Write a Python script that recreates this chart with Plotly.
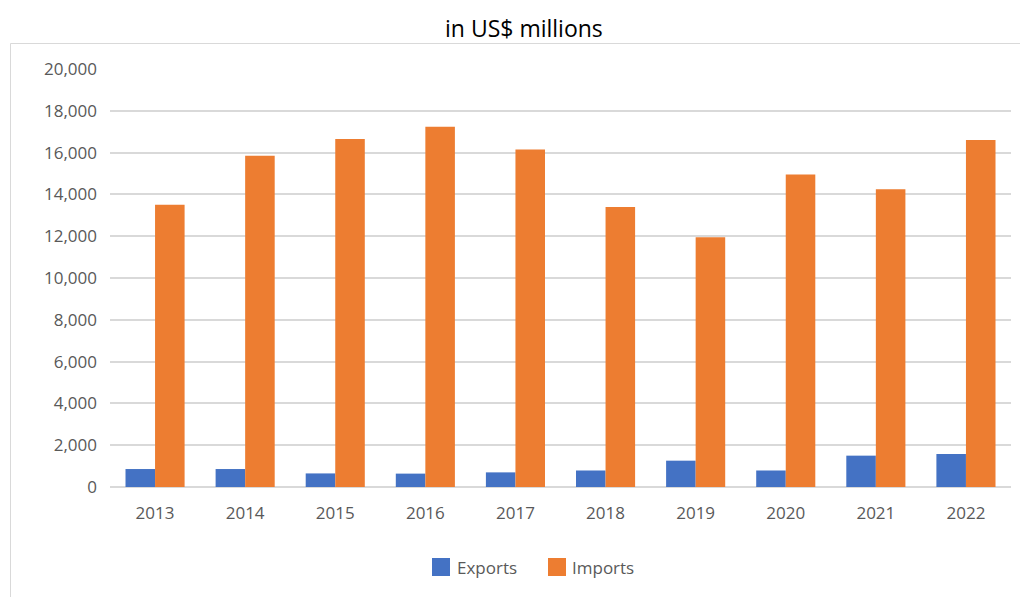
import plotly.graph_objects as go

# Annual trade values, US$ millions
years = ["2013", "2014", "2015", "2016", "2017", "2018", "2019", "2020", "2021", "2022"]
exports = [860, 860, 650, 640, 700, 790, 1260, 790, 1500, 1580]
imports = [13500, 15850, 16650, 17240, 16150, 13400, 11950, 14950, 14250, 16600]
series_names = ["Exports", "Imports"]
series_colors = ["#4472C4", "#ED7D31"]
y_ticks = [0, 2000, 4000, 6000, 8000, 10000, 12000, 14000, 16000, 18000, 20000]

W, H = 1020, 597
L, R, T, B = 110, 9, 69, 110
plot_w = W - L - R
plot_h = H - T - B


def px_x(px):
    return (px - L) / plot_w


def px_y(py):
    return (H - B - py) / plot_h


fig = go.Figure()
for name, vals, color in zip(series_names, [exports, imports], series_colors):
    fig.add_trace(go.Bar(x=years, y=vals, name=name, marker_color=color,
                         marker_line_width=0, showlegend=False))

tick_font = dict(family="Open Sans, Noto Sans, sans-serif", size=17, color="#595959")

fig.update_layout(
    width=W, height=H,
    margin=dict(l=L, r=R, t=T, b=B),
    paper_bgcolor="white", plot_bgcolor="white",
    barmode="group", bargap=0.344, bargroupgap=0,
    xaxis=dict(type="category", showgrid=False, showline=False, ticks="",
               tickfont=tick_font, ticklabelstandoff=14),
    yaxis=dict(range=[0, 20000], tickvals=y_ticks,
               ticktext=[f"{v:,}" for v in y_ticks],
               showgrid=True, gridcolor="#D9D9D9", gridwidth=1.5,
               zeroline=True, zerolinecolor="#D9D9D9", zerolinewidth=1.5,
               showline=False, ticks="", tickfont=tick_font,
               ticklabelstandoff=12),
)

# Chart frame
fig.add_shape(type="rect", xref="paper", yref="paper",
              x0=px_x(10.5), x1=px_x(1030), y0=px_y(610), y1=px_y(43.5),
              line=dict(color="#D9D9D9", width=1), fillcolor="rgba(0,0,0,0)",
              layer="below")

# Title
fig.add_annotation(text="in US$ millions", xref="paper", yref="paper",
                   x=px_x(524), y=px_y(28), showarrow=False,
                   xanchor="center", yanchor="middle",
                   font=dict(family="Open Sans, sans-serif", size=23, color="#000000"))

# Legend
legend_items = [(432, 455), (548, 570)]
for (sq_x, txt_x), name, color in zip(legend_items, series_names, series_colors):
    fig.add_shape(type="rect", xref="paper", yref="paper",
                  x0=px_x(sq_x), x1=px_x(sq_x + 18), y0=px_y(576), y1=px_y(558),
                  line=dict(width=0), fillcolor=color)
    fig.add_annotation(text=name, xref="paper", yref="paper",
                       x=px_x(txt_x), y=px_y(567.5), showarrow=False,
                       xanchor="left", yanchor="middle",
                       font=tick_font)

fig.write_html("out.html")
